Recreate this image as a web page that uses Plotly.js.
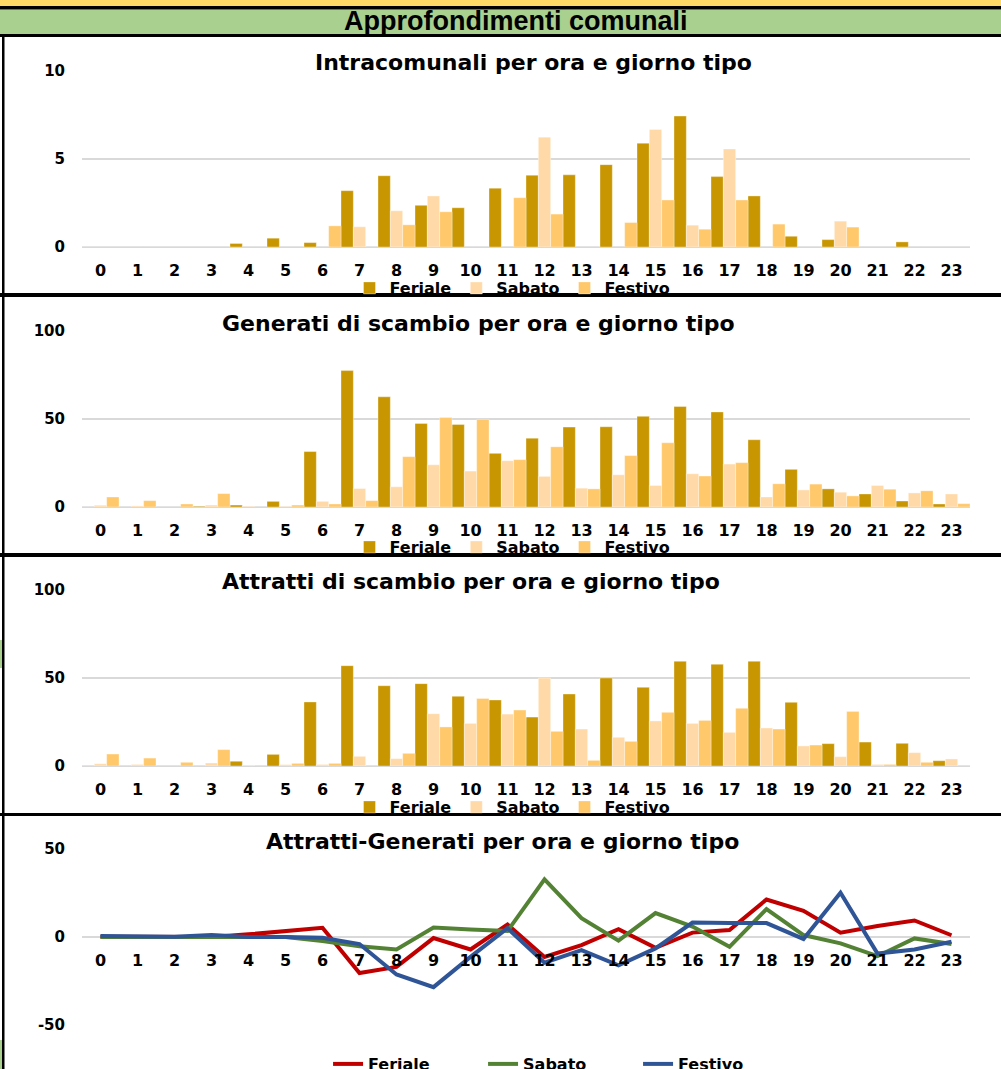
<!DOCTYPE html>
<html>
<head>
<meta charset="utf-8">
<script src="https://cdn.plot.ly/plotly-3.0.1.min.js"></script>
<style>
html,body{margin:0;padding:0;background:#fff;}
#chart{width:1001px;height:1069px;}
</style>
</head>
<body>
<div id="chart"></div>
<script>
// ---- Data ----
const hours = ['0','1','2','3','4','5','6','7','8','9','10','11','12','13','14','15','16','17','18','19','20','21','22','23'];
const seriesNames = ['Feriale','Sabato','Festivo'];

const intraFeriale = [0,0,0,0,0.2,0.5,0.25,3.2,4.05,2.37,2.23,3.34,4.08,4.1,4.68,5.9,7.44,4.0,2.9,0.61,0.42,0,0.29,0];
const intraSabato  = [0,0,0,0,0,0,0,1.15,2.06,2.9,0,0,6.24,0,0,6.68,1.24,5.57,0,0,1.47,0,0,0];
const intraFestivo = [0,0,0,0,0,0,1.2,0,1.26,2.0,0,2.8,1.87,0,1.39,2.67,1.01,2.67,1.3,0,1.13,0,0,0];

const genFeriale = [0,0,0,0.4,1.1,3.2,31.5,77.5,62.6,47.5,46.9,30.5,39.1,45.4,45.6,51.5,57.1,54,38.2,21.4,10.3,7.4,3.4,1.7];
const genSabato  = [1,0.6,0,1.1,0.4,0.3,3.2,10.5,11.5,24,20.4,26.3,17.4,10.7,18.3,12.2,18.9,24.4,5.7,9.7,8.4,12.2,8,7.4];
const genFestivo = [5.7,3.6,1.7,7.6,0,1.1,1.7,3.6,28.6,50.8,49.8,26.9,34.2,10.3,29.2,36.5,17.6,25.2,13.2,13,6.3,10.1,9.2,1.9];

const attrFeriale = [0,0,0,0,2.7,6.6,36.4,57,45.6,46.8,39.6,37.5,27.8,40.9,50,44.7,59.5,57.8,59.5,36.2,12.7,13.6,12.9,3];
const attrSabato  = [1.3,0.9,0,1.7,0.5,0.8,0.9,5.5,4.2,29.7,24.2,29.5,50,21,16.3,25.6,24.2,19.1,21.6,11.4,5.3,0.9,7.6,4];
const attrFestivo = [6.8,4.5,2.1,9.3,0,1.5,1.5,0,7.2,22.2,38.4,31.8,19.7,3.2,14,30.5,25.9,32.8,21,11.9,31,0.9,2.1,0];

const diffFeriale = [0.2,0,0,0,1.5,3.2,5.2,-20.5,-17,-0.6,-7.1,7.1,-11.3,-4.6,4.4,-6.1,2.5,4,21.3,14.9,2.5,6.3,9.4,1];
const diffSabato  = [0,0,0,0,0,0,-2.3,-5.2,-7.1,5.4,4.2,3.4,32.8,10.7,-2.1,13.6,5.9,-5.6,15.9,1.1,-3.6,-10.9,-0.8,-4];
const diffFestivo = [0.6,0.4,0.2,1.1,0,0,-0.4,-4,-21.3,-28.5,-11.3,5,-14.6,-7.5,-16.1,-6.5,8.2,7.9,7.9,-1.1,25.1,-9.4,-7.1,-2.7];

const yTicksBars1 = [0, 5, 10];
const yTicksBars2 = [0, 50, 100];
const yTicksDiff = [-50, 0, 50];
const yTickTextDiff = ['-50', '0', '50'];

const headerText = 'Approfondimenti comunali';
const panelTitles = [
  'Intracomunali per ora e giorno tipo',
  'Generati di scambio per ora e giorno tipo',
  'Attratti di scambio per ora e giorno tipo',
  'Attratti-Generati per ora e giorno tipo'
];

// ---- Styles ----
const barColors = ['#C89600','#FFDAA8','#FFC86A'];
const lineColors = ['#C00000','#548235','#2F5597'];
const FONT = 'DejaVu Sans, Verdana, sans-serif';
const W = 1001, H = 1069;
const py = px => 1 - px / H;
const gridColor = '#D9D9D9';

const barSets = [
  [intraFeriale, intraSabato, intraFestivo],
  [genFeriale, genSabato, genFestivo],
  [attrFeriale, attrSabato, attrFestivo]
];
const legendIds = ['legend','legend2','legend3','legend4'];

const traces = [];
barSets.forEach((set, p) => {
  set.forEach((vals, i) => {
    traces.push({
      type: 'bar', x: hours, y: vals, name: seriesNames[i],
      xaxis: 'x' + (p === 0 ? '' : p + 1), yaxis: 'y' + (p === 0 ? '' : p + 1),
      marker: {color: barColors[i], line: {width: 0.6, color: 'rgba(255,255,255,0.6)'}},
      legend: legendIds[p], hoverinfo: 'x+y'
    });
  });
});
[diffFeriale, diffSabato, diffFestivo].forEach((vals, i) => {
  traces.push({
    type: 'scatter', mode: 'lines', x: hours, y: vals, name: seriesNames[i],
    xaxis: 'x4', yaxis: 'y4',
    line: {color: lineColors[i], width: 4},
    legend: 'legend4'
  });
});

const xDomain = [82 / W, 970 / W];
const panels = [
  {top: 71, bot: 247, range: [0, 10], tv: yTicksBars1, tt: yTicksBars1.map(String)},
  {top: 331, bot: 507, range: [0, 100], tv: yTicksBars2, tt: yTicksBars2.map(String)},
  {top: 590, bot: 766, range: [0, 100], tv: yTicksBars2, tt: yTicksBars2.map(String)},
  {top: 849, bot: 1025, range: [-50, 50], tv: yTicksDiff, tt: yTickTextDiff}
];

const layout = {
  width: W, height: H,
  margin: {l: 0, r: 0, t: 0, b: 0, autoexpand: false},
  paper_bgcolor: '#ffffff',
  plot_bgcolor: 'rgba(0,0,0,0)',
  barmode: 'group', bargap: 0, bargroupgap: 0,
  font: {family: FONT, color: '#000000'},
  showlegend: true,
  shapes: [], annotations: []
};

panels.forEach((p, idx) => {
  const s = idx === 0 ? '' : String(idx + 1);
  layout['xaxis' + s] = {
    domain: xDomain, type: 'category', range: [-0.5, 23.5],
    anchor: idx === 3 ? 'free' : 'y' + s,
    position: idx === 3 ? py(937) : undefined,
    showgrid: false, showline: false, zeroline: false, ticks: '',
    tickfont: {family: FONT, size: 16, weight: 'bold', color: '#000'},
    ticklabelstandoff: 12, fixedrange: true, automargin: false
  };
  layout['yaxis' + s] = {
    domain: [py(p.bot), py(p.top)], anchor: 'x' + s,
    range: p.range, tickmode: 'array', tickvals: p.tv, ticktext: p.tt,
    showgrid: true, gridcolor: gridColor, gridwidth: 2,
    zeroline: true, zerolinecolor: gridColor, zerolinewidth: 2,
    showline: false, ticks: '',
    tickfont: {family: FONT, size: 15, weight: 'bold', color: '#000'},
    ticklabelstandoff: 16, fixedrange: true, automargin: false
  };
});

// legends
const legendY = [288, 547, 807, 1064];
legendIds.forEach((id, i) => {
  const leg = {
    orientation: 'h', x: i === 3 ? 0.56 : 0.512, xanchor: 'center',
    y: py(legendY[i]), yanchor: 'middle',
    bgcolor: 'rgba(0,0,0,0)', traceorder: 'normal',
    font: {family: FONT, size: 16, weight: 'bold', color: '#000'},
    itemwidth: 30, tracegroupgap: 0
  };
  if (i === 3) { leg.entrywidth = 110; leg.entrywidthmode = 'pixels'; }
  layout[id] = leg;
});

// background bands and separators
const sh = layout.shapes;
const rect = (x0, y0, x1, y1, color, layer) => sh.push({
  type: 'rect', xref: 'paper', yref: 'paper',
  x0: x0 / W, x1: x1 / W, y0: py(y1), y1: py(y0),
  fillcolor: color, line: {width: 0}, layer: layer || 'above'
});
rect(0, 0, W, 6, '#FFD966', 'below');
rect(0, 6, W, 9.5, '#000000');
rect(0, 9.5, W, 34, '#A9D08E', 'below');
rect(0, 34, W, 37, '#000000');
rect(2, 37, 4.5, H, '#000000');
rect(0, 640, 2, 668, '#A9D08E');
rect(0, 1040, 2, H, '#A9D08E');
rect(0, 293, W, 297, '#000000');
rect(0, 553, W, 557, '#000000');
rect(0, 813, W, 816, '#000000');

// header and titles
const an = layout.annotations;
an.push({
  text: headerText, xref: 'paper', yref: 'paper', x: 516 / W, y: py(21),
  xanchor: 'center', yanchor: 'middle', showarrow: false,
  font: {family: 'Liberation Sans Narrow, Liberation Sans, Arial, sans-serif', size: 27, weight: 'bold', color: '#000'}
});
const titlePos = [[533, 62], [478, 323], [471, 581], [503, 841]];
panelTitles.forEach((t, i) => {
  an.push({
    text: t, xref: 'paper', yref: 'paper', x: titlePos[i][0] / W, y: py(titlePos[i][1]),
    xanchor: 'center', yanchor: 'middle', showarrow: false,
    font: {family: FONT, size: 22, weight: 'bold', color: '#000'}
  });
});

Plotly.newPlot('chart', traces, layout, {staticPlot: true, displayModeBar: false});
</script>
</body>
</html>
